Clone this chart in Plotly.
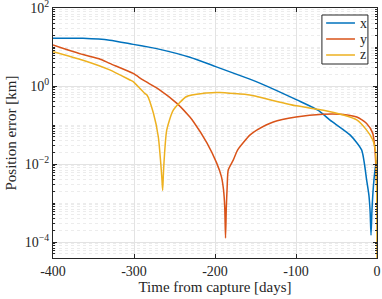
import plotly.graph_objects as go

# Time from capture [days] and position error [km]
t_x = [-400, -380, -363, -330, -301, -280, -268, -231, -200, -157, -144, -99, -73, -58, -33, -19,
       -12.8, -10, -8.5, -7.4, -6.3, -4.5, -1.6, 0]
err_x = [16.7, 16.9, 16.7, 15.0, 11.7, 9.8, 8.7, 5.5, 3.2, 1.5, 1.17, 0.44, 0.24, 0.134, 0.055, 0.023,
         0.0039, 0.0016, 0.0006, 0.00015, 0.0006, 0.0026, 0.0093, 0.0126]

t_y = [-400, -363, -343, -330, -301, -289, -268, -247, -231, -227, -210, -198, -192, -189.5, -188, -187,
       -186, -185, -183.6, -177.5, -172, -157, -148.5, -128, -100, -66.5, -45.6, -25, -12.8,
       -5.3, -2.5, -1, 0]
err_y = [11.3, 6.4, 5.0, 3.8, 2.1, 1.43, 0.79, 0.36, 0.16, 0.125, 0.035, 0.0107, 0.0047, 0.0022, 0.0008,
         0.000126, 0.0008, 0.0025, 0.0071, 0.0126, 0.023, 0.055, 0.074, 0.12, 0.16, 0.19, 0.19,
         0.16, 0.11, 0.062, 0.023, 0.006, 0.002]

t_z = [-400, -363, -330, -305, -301, -286.4, -284, -276, -270, -267, -265.5, -264.6, -263.8, -263,
       -259.6, -251.5, -235, -214, -199, -194, -157, -148.5, -99.6, -66, -41.5, -25, -12.8, -5.3,
       -2, -0.5, 0]
err_z = [7.6, 4.6, 2.6, 1.43, 1.3, 0.64, 0.59, 0.2, 0.05, 0.0107, 0.004, 0.0021, 0.005, 0.0107,
         0.074, 0.24, 0.54, 0.65, 0.68, 0.68, 0.59, 0.54, 0.31, 0.24, 0.18, 0.135, 0.074, 0.042,
         0.023, 0.003, 0.00003]

x_ticks = [-400, -300, -200, -100, 0]
x_labels = ["-400", "-300", "-200", "-100", "0"]
y_ticks = [1e-4, 1e-2, 1, 100]
y_labels = ["10<sup>−4</sup>", "10<sup>−2</sup>", "10<sup>0</sup>", "10<sup>2</sup>"]

names = ["x", "y", "z"]
colors = ["#0072BD", "#D95319", "#EDB120"]
series = [(t_x, err_x), (t_y, err_y), (t_z, err_z)]

FONT = "Liberation Serif"
AX = "#262626"

fig = go.Figure()
for (t, e), n, c in zip(series, names, colors):
    fig.add_trace(go.Scatter(x=t, y=e, mode="lines", name=n, showlegend=False,
                             line=dict(color=c, width=1.5, shape="spline", smoothing=0.6)))

# MATLAB-style legend box drawn in paper coordinates
fig.add_shape(type="rect", xref="paper", yref="paper", x0=0.830, x1=0.972, y0=0.776, y1=0.972,
              fillcolor="white", line=dict(color=AX, width=1), layer="above")
legend_y = [0.94, 0.876, 0.812]
for n, c, ly in zip(names, colors, legend_y):
    fig.add_shape(type="line", xref="paper", yref="paper", x0=0.843, x1=0.932, y0=ly, y1=ly,
                  line=dict(color=c, width=1.5), layer="above")
    fig.add_annotation(xref="paper", yref="paper", x=0.940, y=ly, text=n, showarrow=False,
                       xanchor="left", yanchor="middle",
                       font=dict(family=FONT, size=14, color=AX))

fig.update_layout(
    width=382, height=299,
    margin=dict(l=53, r=5, t=8, b=41),
    paper_bgcolor="white", plot_bgcolor="white",
    font=dict(family=FONT, size=14, color=AX),
    showlegend=False,
)
fig.update_xaxes(
    range=[-400, 0], tickvals=x_ticks, ticktext=x_labels, automargin=False,
    showline=True, linecolor=AX, linewidth=1, mirror="ticks",
    ticks="inside", ticklen=4, tickcolor=AX,
    showgrid=True, gridcolor="#e3e3e3", gridwidth=1, zeroline=False,
    title=dict(text="Time from capture [days]", font=dict(family=FONT, size=15, color=AX), standoff=2),
    tickfont=dict(family=FONT, size=14, color=AX), ticklabeloverflow="allow",
)
fig.update_yaxes(
    type="log", range=[-4.41, 2.001], tickvals=y_ticks, ticktext=y_labels, automargin=False,
    showline=True, linecolor=AX, linewidth=1, mirror="ticks",
    ticks="inside", ticklen=4, tickcolor=AX,
    showgrid=True, gridcolor="#e3e3e3", gridwidth=1, zeroline=False,
    minor=dict(dtick="D1", ticks="inside", ticklen=2, tickcolor=AX,
               showgrid=True, gridcolor="#ececec", griddash="dot", gridwidth=1),
    title=dict(text="Position error [km]", font=dict(family=FONT, size=15, color=AX), standoff=4),
    tickfont=dict(family=FONT, size=14, color=AX), ticklabeloverflow="allow",
)

fig.write_html("out.html", config={"displayModeBar": False},
               post_script="document.body.style.margin='0px';")
